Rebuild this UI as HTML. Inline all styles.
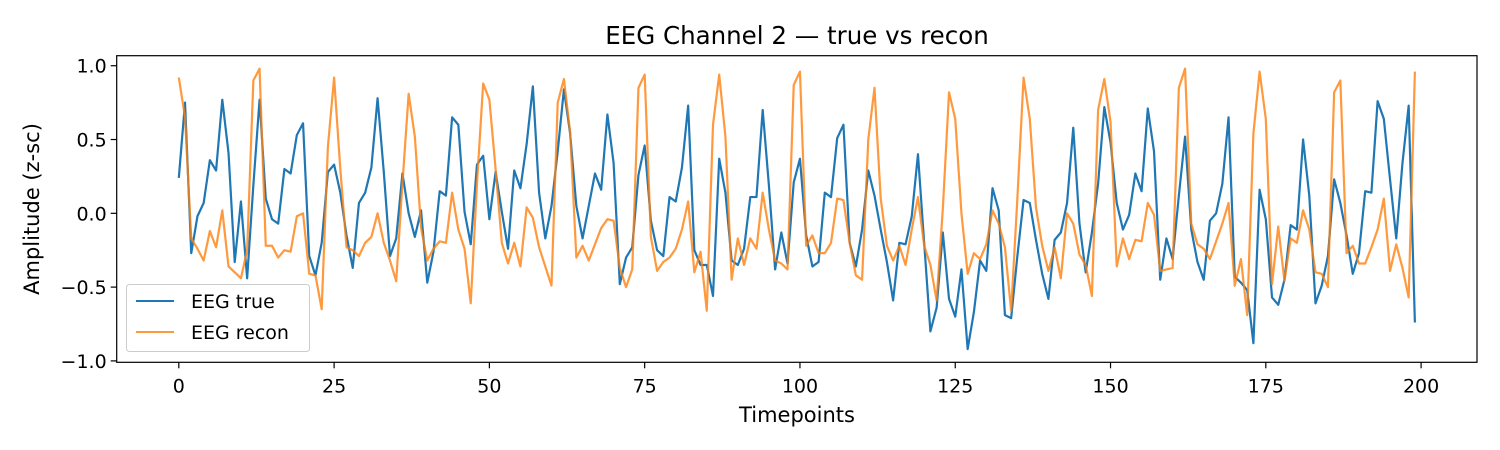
<!DOCTYPE html>
<html><head><meta charset="utf-8"><style>
html,body{margin:0;padding:0;background:#fff;}
svg{display:block;font-family:"DejaVu Sans","Liberation Sans",sans-serif;}
</style></head><body>
<svg id="chart" width="1500" height="450" viewBox="0 0 1500 450" xmlns="http://www.w3.org/2000/svg">
<rect width="1500" height="450" fill="#fff"/>
<text x="797" y="44" font-size="24.5" text-anchor="middle" fill="#000">EEG Channel 2 — true vs recon</text>
<g id="plot"></g>
<text x="797" y="422" font-size="21" text-anchor="middle" fill="#000">Timepoints</text>
<text transform="translate(39,209) rotate(-90)" font-size="21" text-anchor="middle" fill="#000">Amplitude (z-sc)</text>
<g>
<rect x="126.5" y="284.5" width="183" height="67" rx="3" fill="#fff" fill-opacity="0.8" stroke="#ccc"/>
<line x1="136" y1="301" x2="174" y2="301" stroke="#1f77b4" stroke-width="2"/>
<text x="191" y="308" font-size="19" fill="#000">EEG true</text>
<line x1="136" y1="332" x2="174" y2="332" stroke="#ff7f0e" stroke-opacity="0.8" stroke-width="2"/>
<text x="191" y="339" font-size="19" fill="#000">EEG recon</text>
</g>
</svg>
<script>
const trueVals = [0.24,0.75,-0.27,-0.02,0.07,0.36,0.29,0.77,0.41,-0.33,0.08,-0.44,0.19,0.77,0.10,-0.04,-0.07,0.30,0.27,0.53,0.61,-0.29,-0.42,-0.2,0.28,
0.33,0.14,-0.15,-0.37,0.07,0.14,0.31,0.78,0.28,-0.29,-0.17,0.27,0.0,-0.16,0.02,-0.47,-0.26,0.15,0.12,0.65,0.60,0.01,-0.21,0.33,0.39,
-0.04,0.28,0.01,-0.24,0.29,0.17,0.47,0.86,0.14,-0.17,0.05,0.42,0.84,0.54,0.05,-0.17,0.05,0.27,0.16,0.67,0.34,-0.48,-0.30,-0.23,0.26,
0.46,-0.05,-0.25,-0.29,0.11,0.08,0.31,0.73,-0.25,-0.35,-0.35,-0.56,0.37,0.14,-0.32,-0.35,-0.24,0.11,0.11,0.7,0.19,-0.38,-0.13,-0.34,0.21,
0.37,-0.15,-0.36,-0.33,0.14,0.11,0.51,0.60,-0.20,-0.36,-0.11,0.29,0.12,-0.11,-0.33,-0.59,-0.2,-0.21,-0.02,0.4,-0.2,-0.80,-0.64,-0.13,-0.58,
-0.70,-0.38,-0.92,-0.67,-0.32,-0.39,0.17,0.02,-0.69,-0.71,-0.29,0.09,0.07,-0.18,-0.41,-0.58,-0.18,-0.13,0.07,0.58,-0.07,-0.40,-0.13,0.2,0.72,
0.48,0.07,-0.11,-0.01,0.27,0.15,0.71,0.42,-0.45,-0.17,-0.31,0.12,0.52,-0.11,-0.33,-0.45,-0.05,0.0,0.2,0.65,-0.43,-0.47,-0.52,-0.88,0.16,
-0.04,-0.57,-0.62,-0.45,-0.08,-0.11,0.5,0.12,-0.61,-0.49,-0.29,0.23,0.07,-0.15,-0.41,-0.27,0.15,0.14,0.76,0.64,0.23,-0.17,0.34,0.73,-0.74];
const reconVals = [0.92,0.65,-0.17,-0.24,-0.32,-0.12,-0.23,0.02,-0.36,-0.40,-0.44,-0.25,0.90,0.98,-0.22,-0.22,-0.30,-0.25,-0.26,-0.02,0.0,-0.41,-0.42,-0.65,0.45,
0.92,0.3,-0.23,-0.25,-0.29,-0.2,-0.16,0.0,-0.2,-0.32,-0.46,0.2,0.81,0.52,-0.1,-0.32,-0.24,-0.19,-0.2,0.14,-0.11,-0.24,-0.61,0.2,0.88,
0.77,0.3,-0.2,-0.34,-0.2,-0.36,0.04,-0.03,-0.23,-0.36,-0.49,0.75,0.91,0.55,-0.3,-0.22,-0.32,-0.21,-0.1,-0.04,-0.05,-0.37,-0.5,-0.38,0.85,
0.94,-0.16,-0.39,-0.33,-0.30,-0.24,-0.11,0.08,-0.4,-0.26,-0.66,0.6,0.94,0.52,-0.45,-0.17,-0.35,-0.17,-0.24,0.14,-0.11,-0.32,-0.34,-0.38,0.87,
0.96,-0.22,-0.15,-0.27,-0.27,-0.2,0.1,0.09,-0.2,-0.42,-0.45,0.5,0.85,0.1,-0.22,-0.32,-0.22,-0.35,-0.11,0.11,-0.22,-0.35,-0.59,0.03,0.82,
0.64,0.0,-0.41,-0.27,-0.31,-0.21,0.02,-0.07,-0.23,-0.66,0.1,0.92,0.64,0.04,-0.22,-0.39,-0.23,-0.44,0.0,-0.07,-0.28,-0.35,-0.56,0.70,0.91,
0.62,-0.36,-0.17,-0.31,-0.18,-0.19,0.07,-0.01,-0.39,-0.38,-0.37,0.85,0.98,-0.07,-0.21,-0.24,-0.31,-0.19,-0.07,0.07,-0.49,-0.31,-0.69,0.54,0.96,
0.64,-0.48,-0.09,-0.46,-0.17,-0.2,0.02,-0.11,-0.4,-0.41,-0.5,0.82,0.9,-0.27,-0.22,-0.34,-0.34,-0.23,-0.11,0.1,-0.39,-0.21,-0.37,-0.57,0.96];
const xTicks = [0,25,50,75,100,125,150,175,200];
const yTicks = [1.0,0.5,0.0,-0.5,-1.0];
const yTickLabels = ["1.0","0.5","0.0","\u22120.5","\u22121.0"];

const L=116.7,R=1477,T=55.7,B=362.3;
const xMin=-10,xMax=209,yMin=-1.0095,yMax=1.068;
function sx(v){return L+(v-xMin)/(xMax-xMin)*(R-L);}
function sy(v){return B-(v-yMin)/(yMax-yMin)*(B-T);}
const NS="http://www.w3.org/2000/svg";
const g=document.getElementById('plot');
function mk(tag,attrs){const e=document.createElementNS(NS,tag);for(const k in attrs)e.setAttribute(k,attrs[k]);return e;}

xTicks.forEach(t=>{
  const x=sx(t);
  const ln=mk('line',{x1:x,y1:B,x2:x,y2:B+6,stroke:'#000','stroke-width':1.2});
  
  
  g.appendChild(ln);
  const tx=mk('text',{x:x,y:392.5,'font-size':19,'text-anchor':'middle',fill:'#000'});
  
  
  tx.textContent=String(t);g.appendChild(tx);
});
yTicks.forEach((t,i)=>{
  const y=sy(t);
  const ln=mk('line',{x1:L-6,y1:y,x2:L,y2:y,stroke:'#000','stroke-width':1.2});
  
  
  g.appendChild(ln);
  const tx=mk('text',{x:L-10,y:y+7,'font-size':19,'text-anchor':'end',fill:'#000'});
  
  
  tx.textContent=yTickLabels[i];g.appendChild(tx);
});
function series(vals,color,op,name){
  const d=vals.map((v,i)=>(i?'L':'M')+sx(i).toFixed(2)+','+sy(v).toFixed(2)).join('');
  const p=mk('path',{d:d,fill:'none',stroke:color,'stroke-opacity':op,'stroke-width':2.2,'stroke-linejoin':'round'});
  
  
  g.appendChild(p);
}
series(trueVals,'#1f77b4',1,'eeg-true-line');
series(reconVals,'#ff7f0e',0.8,'eeg-recon-line');
const fr=mk('rect',{x:L,y:T,width:R-L,height:B-T,fill:'none',stroke:'#000','stroke-width':1.2});


g.appendChild(fr);
</script>
</body></html>
